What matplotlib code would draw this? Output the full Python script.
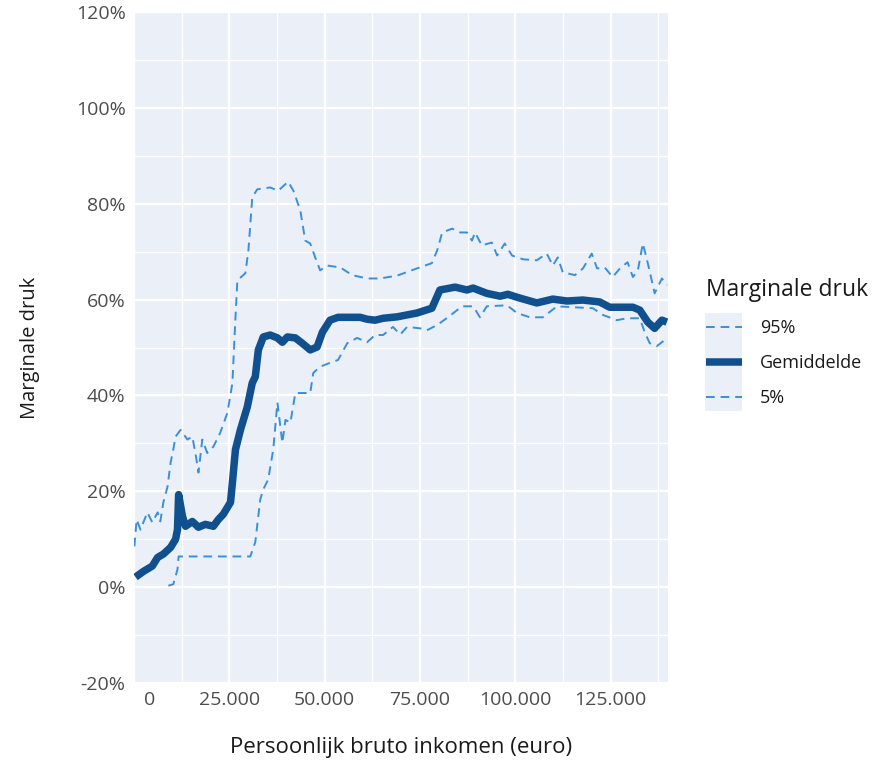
import matplotlib
matplotlib.use("Agg")
import matplotlib.pyplot as plt
import matplotlib.transforms as mtransforms
from matplotlib.lines import Line2D
from matplotlib.patches import Rectangle
from matplotlib.ticker import MultipleLocator, FuncFormatter

plt.rcParams['font.family'] = ['Open Sans', 'DejaVu Sans']

# ---- data (income in euro, marginal pressure in %) ----
mean_x = [400, 2500, 4800, 6200, 7700, 9600, 10900, 11400, 11700, 12700, 13500, 15300,
          16900, 18700, 20800, 22100, 23400, 25300, 25800, 26600, 27900, 29700, 31000,
          31800, 32600, 33900, 35700, 37600, 38900, 40200, 42300, 44100, 46200, 48000,
          49400, 51400, 53500, 56700, 59300, 61100, 63200, 65300, 69000, 74200, 78100,
          80200, 84200, 87300, 88900, 92500, 96000, 98000, 101200, 105600, 109800,
          113500, 117700, 122100, 124700, 130800, 132600, 134700, 136500, 138400, 139700]
mean_y = [2.1, 3.3, 4.4, 6.2, 6.9, 8.3, 10.0, 12.0, 19.3, 14.8, 12.7, 13.7,
          12.5, 13.1, 12.7, 14.1, 15.2, 17.7, 21.8, 28.7, 32.8, 37.6, 42.6,
          43.9, 49.5, 52.2, 52.6, 52.0, 51.1, 52.2, 52.0, 50.9, 49.5, 50.1,
          53.2, 55.7, 56.3, 56.3, 56.3, 55.9, 55.7, 56.1, 56.4, 57.2, 58.2,
          62.0, 62.6, 62.0, 62.4, 61.3, 60.7, 61.1, 60.3, 59.3, 60.1,
          59.7, 59.9, 59.5, 58.4, 58.4, 57.8, 55.3, 54.0, 55.7, 55.3]

p95_x = [100, 700, 1700, 3500, 4800, 6200, 6900, 7700, 8800, 9600, 10300, 10900, 12200,
         14000, 15300, 16300, 16900, 17900, 19200, 20800, 22600, 24500, 25800, 26600,
         27100, 29200, 30000, 31000, 32300, 35700, 37800, 40400, 41800, 43600, 44900,
         46200, 47500, 48800, 50700, 54100, 57200, 61100, 64500, 69000, 74200, 78100,
         79500, 80800, 83400, 85500, 87300, 88600, 89400, 91200, 93800, 95200, 97200,
         99100, 102000, 105600, 108200, 109800, 111100, 112400, 115600, 117700, 120000,
         121400, 123400, 125500, 127400, 129400, 130800, 132100, 133400, 134700, 136500,
         138400, 139700]
p95_y = [8.5, 14.1, 12.0, 15.6, 13.5, 15.6, 13.7, 17.7, 21.0, 26.0, 28.7, 31.4, 32.8,
         30.8, 31.4, 27.0, 23.9, 30.8, 28.0, 29.3, 32.2, 36.4, 42.6, 56.3,
         64.0, 65.5, 70.3, 81.3, 83.0, 83.4, 82.7, 84.6, 82.7, 78.6, 72.3,
         71.7, 68.8, 66.1, 67.1, 66.7, 65.1, 64.4, 64.4, 65.0, 66.5, 67.6,
         70.3, 74.0, 74.8, 74.0, 74.0, 72.3, 74.0, 71.3, 71.9, 69.2, 71.7,
         69.2, 68.4, 68.2, 69.6, 67.1, 68.8, 65.7, 65.1, 66.5, 69.6,
         66.5, 66.7, 64.7, 66.5, 67.8, 64.7, 66.1, 71.7, 67.6, 61.3,
         64.4, 63.0]

p5_x = [9000, 10300, 11400, 11700, 14000, 30500, 31800, 33100, 33900, 35200, 36500,
        37600, 38900, 39700, 41000, 42300, 46200, 47000, 48800, 51400, 53500, 55900,
        58500, 61100, 63200, 65300, 67900, 69800, 71600, 75000, 76800, 79500, 82300,
        86000, 88900, 90700, 92500, 97800, 100400, 103800, 107200, 110900, 115100,
        120300, 122900, 126600, 129200, 132600, 133900, 135200, 137100, 139200]
p5_y = [0.3, 0.6, 3.7, 6.4, 6.4, 6.4, 9.4, 18.3, 20.4, 22.5, 28.7,
        38.5, 30.1, 34.9, 34.3, 40.5, 40.5, 44.7, 46.0, 46.8, 47.4, 50.9,
        52.0, 51.1, 52.6, 52.6, 54.3, 52.7, 54.3, 54.0, 53.6, 54.7, 56.3,
        58.6, 58.6, 56.3, 58.6, 58.8, 57.2, 56.3, 56.3, 58.6, 58.4,
        58.2, 56.8, 55.7, 56.1, 56.1, 53.2, 50.9, 50.3, 51.6]

series_labels = ["95%", "Gemiddelde", "5%"]
x_ticks = [0, 25000, 50000, 75000, 100000, 125000]
y_ticks = [-20, 0, 20, 40, 60, 80, 100, 120]

# ---- styling ----
panel = "#ebf0f8"
dark = "#10508f"
light = "#3a8fdd"
txtc = "#4d4d4d"

fig = plt.figure(figsize=(8.92, 7.68), dpi=100)
ax = fig.add_axes([134/892, 1-683/768, (668-134)/892, (683-12)/768])
ax.set_facecolor(panel)

ax.plot(p95_x, p95_y, color=light, lw=1.4, dashes=(4.5, 3), zorder=3)
ax.plot(p5_x, p5_y, color=light, lw=1.4, dashes=(4.5, 3), zorder=3)
ax.plot(mean_x, mean_y, color=dark, lw=5.4, solid_capstyle='butt',
        solid_joinstyle='round', zorder=4)

ax.set_xlim(0, 140000)
ax.set_ylim(-20, 120)
ax.set_xticks(x_ticks)
ax.xaxis.set_minor_locator(MultipleLocator(12500))
ax.set_yticks(y_ticks)
ax.yaxis.set_minor_locator(MultipleLocator(10))
ax.xaxis.set_major_formatter(FuncFormatter(lambda v, p: f"{int(v):,}".replace(",", ".")))
ax.yaxis.set_major_formatter(FuncFormatter(lambda v, p: f"{int(v)}%"))

ax.grid(which='major', color='white', lw=1.6, zorder=1)
ax.grid(which='minor', color='white', lw=0.9, zorder=1)
ax.set_axisbelow(True)
for s in ax.spines.values():
    s.set_visible(False)
ax.tick_params(which='both', length=0)
ax.tick_params(axis='x', colors=txtc, labelsize=14, pad=6)
ax.tick_params(axis='y', colors=txtc, labelsize=14, pad=6)

# shift the "0" label rightwards as in the reference
lbl0 = ax.get_xticklabels()[0]
lbl0.set_transform(lbl0.get_transform() + mtransforms.ScaledTranslation(16/100, 0, fig.dpi_scale_trans))

ax.set_xlabel("Persoonlijk bruto inkomen (euro)", fontsize=16, color="#1a1a1a", labelpad=20)
ax.set_ylabel("Marginale druk", fontsize=14.5, color="#1a1a1a", labelpad=26)

# ---- legend ----
handles = [Line2D([], [], color=light, lw=1.4, dashes=(4.5, 3)),
           Line2D([], [], color=dark, lw=5.4, solid_capstyle='butt'),
           Line2D([], [], color=light, lw=1.4, dashes=(4.5, 3))]
leg = fig.legend(handles, series_labels, title="Marginale druk",
                 loc='upper left', bbox_to_anchor=(706/892, 1-278/768),
                 frameon=False, fontsize=13, title_fontsize=16.5,
                 borderpad=0, borderaxespad=0,
                 handlelength=2.0, handletextpad=1.0, labelspacing=0.95,
                 alignment='left')
leg.get_title().set_color("#1a1a1a")
for t in leg.get_texts():
    t.set_color("#1a1a1a")
fig.patches.append(Rectangle((705/892, 1-411/768), 37/892, 98/768,
                             transform=fig.transFigure, facecolor=panel,
                             edgecolor='none', zorder=0))

fig.savefig("out.png", dpi=100, facecolor="white")
